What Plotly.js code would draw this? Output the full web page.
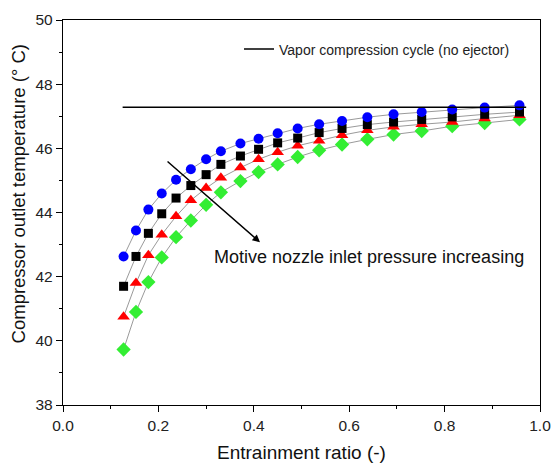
<!DOCTYPE html>
<html>
<head>
<meta charset="utf-8">
<script src="https://cdn.plot.ly/plotly-3.0.1.min.js"></script>
<style>html,body{margin:0;padding:0;background:#fff;}#chart{width:551px;height:463px;}</style>
</head>
<body>
<div id="chart"></div>
<script>
// Entrainment ratio (x) for each column
const entrainment = [0.127, 0.153, 0.179, 0.207, 0.237, 0.268, 0.300, 0.331, 0.372, 0.410,
                     0.450, 0.492, 0.537, 0.585, 0.638, 0.693, 0.752, 0.816, 0.884, 0.957];
// Compressor outlet temperature (°C), four motive nozzle inlet pressures
const tBlue  = [42.63, 43.44, 44.09, 44.59, 45.02, 45.35, 45.66, 45.91, 46.15, 46.30,
                46.47, 46.62, 46.75, 46.85, 46.97, 47.06, 47.13, 47.21, 47.27, 47.34];
const tBlack = [41.70, 42.63, 43.35, 43.96, 44.45, 44.84, 45.18, 45.50, 45.76, 45.97,
                46.17, 46.32, 46.49, 46.62, 46.74, 46.82, 46.90, 46.98, 47.06, 47.13];
const tRed   = [40.75, 41.80, 42.67, 43.31, 43.88, 44.38, 44.76, 45.08, 45.40, 45.66,
                45.88, 46.08, 46.24, 46.41, 46.56, 46.67, 46.75, 46.82, 46.93, 47.03];
const tGreen = [39.73, 40.90, 41.83, 42.60, 43.23, 43.75, 44.24, 44.63, 44.98, 45.26,
                45.50, 45.73, 45.94, 46.12, 46.28, 46.43, 46.54, 46.69, 46.79, 46.90];
// Vapor compression cycle (no ejector) reference line
const vccX = [0.125, 0.971];
const vccT = [47.28, 47.28];
const vccLabel = "Vapor compression cycle (no ejector)";
const arrowText = "Motive nozzle inlet pressure increasing";
const xTitle = "Entrainment ratio (-)";
const yTitle = "Compressor outlet temperature (° C)";
const arrowStart = [0.216, 45.63];
const arrowEnd = [0.413, 43.07];
const textPos = [0.641, 42.6];

const lineStyle = {color: '#9a9a9a', width: 1};
function series(y, color, symbol, size) {
  return {x: entrainment, y: y, type: 'scatter', mode: 'lines+markers', showlegend: false,
          line: lineStyle, marker: {color: color, symbol: symbol, size: size, line: {width: 0}}};
}
const data = [
  series(tGreen, '#33ee33', 'diamond', 11),
  series(tRed, '#ff0000', 'triangle-up', 11),
  series(tBlack, '#000000', 'square', 9),
  series(tBlue, '#0000ff', 'circle', 10),
  {x: vccX, y: vccT, type: 'scatter', mode: 'lines', name: vccLabel,
   line: {color: '#000', width: 1.5}, showlegend: true}
];
const axisFont = {family: 'Liberation Sans, Arial, sans-serif', size: 15.5, color: '#222'};
const layout = {
  width: 551, height: 463,
  margin: {l: 63, r: 11, t: 20, b: 58},
  paper_bgcolor: '#fff', plot_bgcolor: '#fff',
  font: {family: 'Liberation Sans, Arial, sans-serif', color: '#000'},
  showlegend: true,
  legend: {x: 0.369, y: 0.965, xanchor: 'left', yanchor: 'top', bgcolor: 'rgba(0,0,0,0)',
           font: {size: 14, color: '#222'}, itemwidth: 30},
  xaxis: {range: [0, 1], dtick: 0.2, tickformat: '.1f', showgrid: false, zeroline: false,
          showline: true, linecolor: '#000', linewidth: 1.2, mirror: true,
          ticks: 'outside', ticklen: 6, tickcolor: '#000', ticklabeloverflow: 'allow',
          minor: {dtick: 0.1, ticks: 'outside', ticklen: 3, tickcolor: '#000', showgrid: false},
          tickfont: axisFont},
  yaxis: {range: [38, 50], dtick: 2, showgrid: false, zeroline: false,
          showline: true, linecolor: '#000', linewidth: 1.2, mirror: true,
          ticks: 'outside', ticklen: 6, tickcolor: '#000', ticklabeloverflow: 'allow',
          minor: {dtick: 1, ticks: 'outside', ticklen: 3, tickcolor: '#000', showgrid: false},
          tickfont: axisFont},
  annotations: [
    {x: arrowEnd[0], y: arrowEnd[1], ax: arrowStart[0], ay: arrowStart[1], axref: 'x', ayref: 'y',
     xref: 'x', yref: 'y', showarrow: true, arrowhead: 2, arrowsize: 1, arrowwidth: 1.5,
     arrowcolor: '#000', text: ''},
    {x: textPos[0], y: textPos[1], xref: 'x', yref: 'y', showarrow: false, text: arrowText,
     font: {size: 18, color: '#111'}},
    {x: 0.5, y: -0.123, xref: 'paper', yref: 'paper', yanchor: 'middle', showarrow: false,
     text: xTitle, font: {size: 19, color: '#111'}},
    {x: -0.0943, y: 0.547, xref: 'paper', yref: 'paper', xanchor: 'center', yanchor: 'middle',
     textangle: -90, showarrow: false, text: yTitle, font: {size: 18.5, color: '#111'}}
  ]
};
Plotly.newPlot('chart', data, layout, {staticPlot: true, displayModeBar: false});
</script>
</body>
</html>
